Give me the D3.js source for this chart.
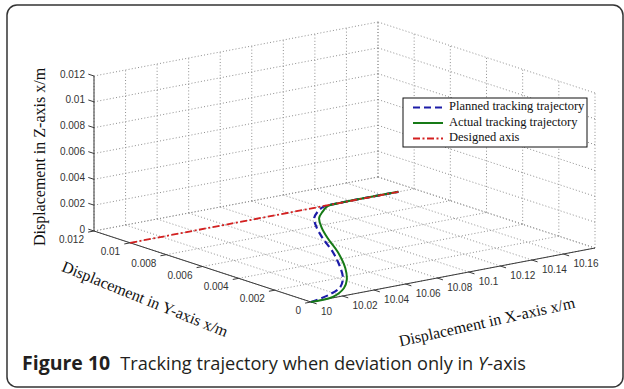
<!DOCTYPE html>
<html>
<head>
<meta charset="utf-8">
<script src="https://cdn.jsdelivr.net/npm/d3@7"></script>
<style>
  body { margin: 0; background: #fff; }
  svg { display: block; }
</style>
</head>
<body>
<svg id="chart" width="624" height="389"></svg>
<script>
// axis ticks (grid runs to 10.18, labels stop at 10.16)
const xGridTicks = [10, 10.02, 10.04, 10.06, 10.08, 10.1, 10.12, 10.14, 10.16, 10.18];
const xTickLabels = ["10", "10.02", "10.04", "10.06", "10.08", "10.1", "10.12", "10.14", "10.16"];
const yTicks = [0, 0.002, 0.004, 0.006, 0.008, 0.01, 0.012];
const yTickLabels = ["0", "0.002", "0.004", "0.006", "0.008", "0.01", "0.012"];
const zTicks = [0, 0.002, 0.004, 0.006, 0.008, 0.01, 0.012];
const zTickLabels = ["0", "0.002", "0.004", "0.006", "0.008", "0.01", "0.012"];

// trajectories (z = 0 throughout)
const plannedX = [10, 10.016, 10.030, 10.042, 10.055, 10.070, 10.083, 10.094, 10.104, 10.113, 10.121, 10.129, 10.17];
const plannedY = [0, 0.0004, 0.0010, 0.0019, 0.0032, 0.0049, 0.0066, 0.0079, 0.0089, 0.0095, 0.0099, 0.0100, 0.0100];
const actualX = [10, 10.015, 10.030, 10.041, 10.055, 10.072, 10.085, 10.096, 10.106, 10.115, 10.124, 10.132, 10.17];
const actualY = [0, 0.0001, 0.0008, 0.0016, 0.0029, 0.0048, 0.0065, 0.0078, 0.0088, 0.0094, 0.0099, 0.0100, 0.0100];
const designedX = [10, 10.17];
const designedY = [0.01, 0.01];

const legendNames = ["Planned tracking trajectory", "Actual tracking trajectory", "Designed axis"];

const svg = d3.select("#chart");

// frame
svg.append("rect")
  .attr("x", 7).attr("y", 5)
  .attr("width", 616).attr("height", 382)
  .attr("rx", 10)
  .attr("fill", "none")
  .attr("stroke", "#333")
  .attr("stroke-width", 1.5);

// 3D -> screen, simple orthographic projection
const origin = [311, 302];           // (x=10, y=0, z=0)
const ex = [284, -54], ey = [-217, -71], ez = [0, -155];
const sx = d3.scaleLinear().domain([10, 10.18]).range([0, 1]);
const sy = d3.scaleLinear().domain([0, 0.012]).range([0, 1]);
const sz = d3.scaleLinear().domain([0, 0.012]).range([0, 1]);

function proj(x, y, z) {
  const a = sx(x), b = sy(y), c = sz(z);
  return [origin[0] + a * ex[0] + b * ey[0] + c * ez[0],
          origin[1] + a * ex[1] + b * ey[1] + c * ez[1]];
}

const xMin = 10, xMax = 10.18, yMin = 0, yMax = 0.012, zMin = 0, zMax = 0.012;

// grid
const grid = svg.append("g")
  .attr("stroke", "#8f8f8f")
  .attr("stroke-width", 1)
  .attr("stroke-dasharray", "1,2.2")
  .attr("fill", "none");

function seg(p, q) {
  grid.append("line")
    .attr("x1", p[0]).attr("y1", p[1])
    .attr("x2", q[0]).attr("y2", q[1]);
}

// floor
xGridTicks.forEach(x => seg(proj(x, yMin, zMin), proj(x, yMax, zMin)));
yTicks.forEach(y => seg(proj(xMin, y, zMin), proj(xMax, y, zMin)));
// left back wall (y = max)
xGridTicks.forEach(x => seg(proj(x, yMax, zMin), proj(x, yMax, zMax)));
zTicks.forEach(z => seg(proj(xMin, yMax, z), proj(xMax, yMax, z)));
// right back wall (x = max)
yTicks.forEach(y => seg(proj(xMax, y, zMin), proj(xMax, y, zMax)));
zTicks.forEach(z => seg(proj(xMax, yMin, z), proj(xMax, yMax, z)));

// axis lines
const axisColor = "#3a3a3a";
const axes = svg.append("g").attr("stroke", axisColor).attr("stroke-width", 1).attr("fill", "none");
function axLine(p, q) {
  axes.append("line").attr("x1", p[0]).attr("y1", p[1]).attr("x2", q[0]).attr("y2", q[1]);
}
axLine(proj(xMin, yMin, zMin), proj(xMax, yMin, zMin));
axLine(proj(xMin, yMin, zMin), proj(xMin, yMax, zMin));
axLine(proj(xMin, yMax, zMin), proj(xMin, yMax, zMax));

const tickLen = 6;
function unit(v) { const n = Math.hypot(v[0], v[1]); return [v[0] / n, v[1] / n]; }
const dX = unit(ex), dY = unit(ey);

// X ticks point toward -Y
xTickLabels.forEach(t => {
  const p = proj(+t, yMin, zMin);
  axLine(p, [p[0] - dY[0] * tickLen, p[1] - dY[1] * tickLen]);
});
// Y ticks point toward -X
yTicks.forEach(y => {
  const p = proj(xMin, y, zMin);
  axLine(p, [p[0] - dX[0] * tickLen, p[1] - dX[1] * tickLen]);
});
// Z ticks point toward +Y
zTicks.forEach(z => {
  const p = proj(xMin, yMax, z);
  axLine(p, [p[0] + dY[0] * tickLen, p[1] + dY[1] * tickLen]);
});

// tick labels
const labels = svg.append("g")
  .attr("font-family", "'Liberation Sans', Arial, sans-serif")
  .attr("font-size", 10)
  .attr("fill", "#333");

xTickLabels.forEach(t => {
  const p = proj(+t, yMin, zMin);
  labels.append("text").attr("x", p[0] + 10).attr("y", p[1] + 10)
    .attr("dominant-baseline", "middle").text(t);
});
yTicks.forEach((y, i) => {
  const p = proj(xMin, y, zMin);
  labels.append("text").attr("x", p[0] - 10).attr("y", p[1] + 9.5)
    .attr("text-anchor", "end").attr("dominant-baseline", "middle").text(yTickLabels[i]);
});
zTicks.forEach((z, i) => {
  const p = proj(xMin, yMax, z);
  labels.append("text").attr("x", p[0] - 9).attr("y", p[1] - 1)
    .attr("text-anchor", "end").attr("dominant-baseline", "middle").text(zTickLabels[i]);
});

// axis titles
const titles = svg.append("g")
  .attr("font-family", "'Liberation Serif', 'Times New Roman', serif")
  .attr("font-size", 16)
  .attr("fill", "#111")
  .attr("text-anchor", "middle");

titles.append("text")
  .attr("transform", "translate(45,157) rotate(-90)")
  .text("Displacement in Z-axis x/m");
titles.append("text")
  .attr("transform", "translate(143,304) rotate(22)")
  .text("Displacement in Y-axis x/m");
titles.append("text")
  .attr("transform", "translate(488,327) rotate(-12.5)")
  .text("Displacement in X-axis x/m");

// trajectories
const line = d3.line().curve(d3.curveCatmullRom.alpha(0.5));
const series = [
  { xs: plannedX, ys: plannedY, color: "#1c1ca8", dash: "7,4", width: 2.2 },
  { xs: actualX, ys: actualY, color: "#167a16", dash: null, width: 2 },
  { xs: designedX, ys: designedY, color: "#d42020", dash: "7,2.5,2,2.5", width: 1.8 }
];

series.forEach(s => {
  const pts = s.xs.map((x, i) => proj(x, s.ys[i], 0));
  svg.append("path")
    .attr("d", line(pts))
    .attr("fill", "none")
    .attr("stroke", s.color)
    .attr("stroke-width", s.width)
    .attr("stroke-dasharray", s.dash);
});

// legend
const lg = svg.append("g").attr("transform", "translate(403,98)");
lg.append("rect").attr("width", 184).attr("height", 49)
  .attr("fill", "#fff").attr("stroke", "#111").attr("stroke-width", 1);
series.forEach((s, i) => {
  const y = 9.5 + i * 15.5;
  lg.append("line").attr("x1", 10).attr("x2", 40).attr("y1", y).attr("y2", y)
    .attr("stroke", s.color).attr("stroke-width", s.width).attr("stroke-dasharray", s.dash);
  lg.append("text").attr("x", 46).attr("y", y)
    .attr("dominant-baseline", "middle")
    .attr("font-family", "'Liberation Serif', 'Times New Roman', serif")
    .attr("font-size", 12.5).attr("fill", "#111")
    .text(legendNames[i]);
});

// caption
const cap = svg.append("text")
  .attr("x", 22).attr("y", 370)
  .attr("font-family", "'Open Sans', sans-serif")
  .attr("font-size", 19.5)
  .attr("fill", "#231f20");
cap.append("tspan").attr("font-weight", "bold").text("Figure 10");
cap.append("tspan").attr("dx", 10).attr("font-size", 18.2).text("Tracking trajectory when deviation only in ");
cap.append("tspan").attr("font-size", 18.2).attr("font-style", "italic").text("Y");
cap.append("tspan").attr("font-size", 18.2).text("-axis");
</script>
</body>
</html>
